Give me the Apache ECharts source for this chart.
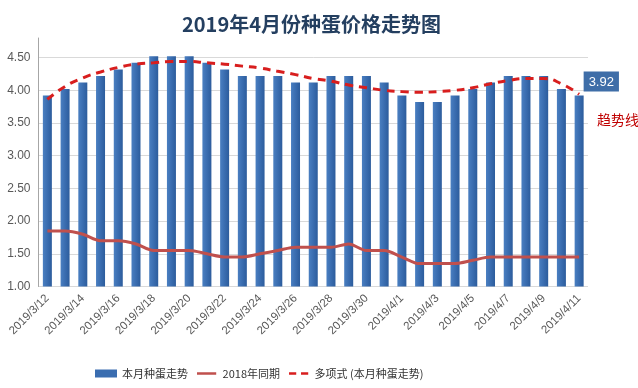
<!DOCTYPE html>
<html><head><meta charset="utf-8">
<script src="https://cdn.jsdelivr.net/npm/echarts@6/dist/echarts.min.js"></script>
<style>html,body{margin:0;padding:0;background:#fff}#c{width:638px;height:388px}</style>
</head><body><div id="c"></div>
<script>
const categories = ['2019/3/12','2019/3/13','2019/3/14','2019/3/15','2019/3/16','2019/3/17','2019/3/18','2019/3/19','2019/3/20','2019/3/21','2019/3/22','2019/3/23','2019/3/24','2019/3/25','2019/3/26','2019/3/27','2019/3/28','2019/3/29','2019/3/30','2019/3/31','2019/4/1','2019/4/2','2019/4/3','2019/4/4','2019/4/5','2019/4/6','2019/4/7','2019/4/8','2019/4/9','2019/4/10','2019/4/11'];
const thisMonth = [3.92,4.02,4.12,4.22,4.32,4.42,4.52,4.52,4.52,4.42,4.32,4.22,4.22,4.22,4.12,4.12,4.22,4.22,4.22,4.12,3.92,3.82,3.82,3.92,4.02,4.12,4.22,4.22,4.22,4.02,3.92];
const lastYear = [1.85,1.85,1.80,1.70,1.70,1.65,1.55,1.55,1.55,1.50,1.45,1.45,1.50,1.55,1.60,1.60,1.60,1.65,1.55,1.55,1.45,1.35,1.35,1.35,1.40,1.45,1.45,1.45,1.45,1.45,1.45];
const trend = [3.86,4.06,4.19,4.28,4.35,4.40,4.42,4.44,4.44,4.42,4.40,4.37,4.34,4.29,4.24,4.18,4.14,4.08,4.04,4.00,3.98,3.97,3.98,4.00,4.04,4.10,4.15,4.18,4.18,4.10,3.94];
const yTicks = ['1.00','1.50','2.00','2.50','3.00','3.50','4.00','4.50'];
const seriesNames = ['本月种蛋走势','2018年同期','多项式 (本月种蛋走势)'];

const chart = echarts.init(document.getElementById('c'), null, {renderer:'canvas'});
const last = thisMonth.length - 1;
const barData = thisMonth.map((v,i) => i === last ? {value:v, label:{show:true, position:[9,-24], formatter:'{c}', color:'#fff', fontSize:13, fontFamily:'Liberation Sans', backgroundColor:'#3f6ea8', padding:[4,5,3,5]}} : v);
const speck = 'M0,0h0.01v0.01h-0.01z M0,9.99h0.01v0.01h-0.01z ';
chart.setOption({
  animation:false,
  title:{text:'2019年4月份种蛋价格走势图', left:177, top:9, textStyle:{fontSize:20, fontWeight:'bold', color:'#243f60', fontFamily:'Noto Sans CJK SC'}},
  grid:{left:38.5, right:50, top:38, bottom:101.5},
  legend:{left:90, top:363, itemGap:9, textStyle:{fontSize:11, color:'#333', fontFamily:'Noto Sans CJK SC'},
    data:[
      {name:seriesNames[0], icon:'rect', itemStyle:{color:'#3a6db0'}},
      {name:seriesNames[1], icon:'path://' + speck + 'M0,3.5h24v3h-24z', itemStyle:{color:'#c0504d'}},
      {name:seriesNames[2], icon:'path://' + speck + 'M0,3.5h9v3h-9z M15,3.5h9v3h-9z', itemStyle:{color:'#d81e1e'}}
    ], itemWidth:22, itemHeight:8},
  xAxis:{type:'category', data:categories, boundaryGap:true,
    axisLine:{show:false}, axisTick:{show:false},
    axisLabel:{interval:1, rotate:45, fontSize:11.5, color:'#595959', fontFamily:'Liberation Sans', margin:10}},
  yAxis:{type:'value', min:1, max:4.8, interval:0.5,
    axisLine:{show:true, lineStyle:{color:'#a6a6a6'}}, axisTick:{show:false},
    axisLabel:{fontSize:12, color:'#595959', fontFamily:'Liberation Sans', showMaxLabel:false, formatter:v => v <= 4.5 ? yTicks[Math.round((v-1)/0.5)] : ''},
    splitLine:{lineStyle:{color:['#d9d9d9','#d9d9d9','#d9d9d9','#d9d9d9','#d9d9d9','#d9d9d9','#d9d9d9','#d9d9d9','rgba(0,0,0,0)']}}},
  series:[
    {name:seriesNames[0], type:'bar', data:barData, barWidth:9,
      itemStyle:{color:new echarts.graphic.LinearGradient(0,0,1,0,[{offset:0,color:'#4a7fc1'},{offset:0.5,color:'#3a6db0'},{offset:1,color:'#2c5c9c'}])}},
    {name:seriesNames[1], type:'line', data:lastYear, smooth:0.3, symbol:'none',
      lineStyle:{color:'#c0504d', width:3}, itemStyle:{color:'#c0504d'}},
    {name:seriesNames[2], type:'line', data:trend, smooth:true, symbol:'none',
      lineStyle:{color:'#d81e1e', width:3, type:[8,6]}, itemStyle:{color:'#d81e1e'}}
  ],
  graphic:[{type:'text', left:597, top:113, style:{text:'趋势线', fill:'#c00000', fontSize:14, fontFamily:'Noto Sans CJK SC'}}]
});
</script></body></html>
